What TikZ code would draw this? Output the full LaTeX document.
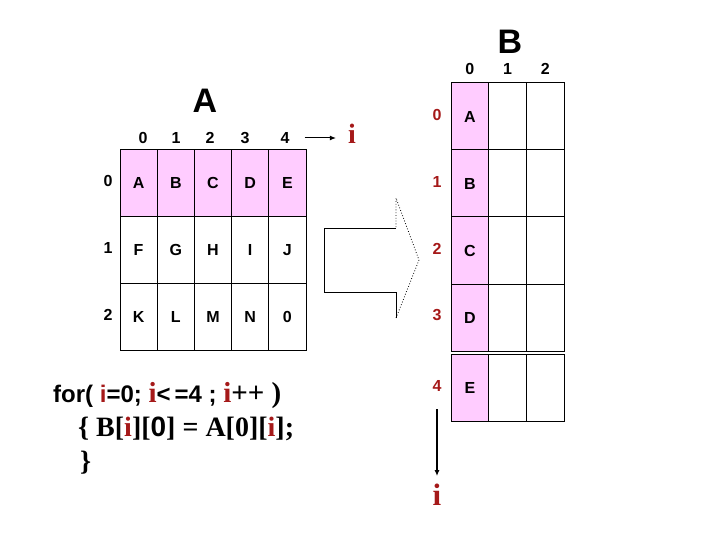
\documentclass[tikz,border=0pt]{standalone}
\usepackage{fontspec}
\setmainfont{Liberation Serif}
\setsansfont{Liberation Sans}
\usetikzlibrary{arrows.meta,positioning}
\definecolor{cellpink}{RGB}{255,204,255}
\definecolor{idxred}{RGB}{165,25,25}

\begin{document}
\begin{tikzpicture}[x=1pt, y=-1pt,
    every node/.style={font=\sffamily\bfseries\fontsize{16}{18}\selectfont, inner sep=0pt},
    cell/.style={draw, line width=1pt, minimum width=37.2pt, minimum height=66.7pt},
    bcell/.style={draw, line width=1pt, minimum width=37.7pt, minimum height=67pt},
    rowred/.style={text=idxred},
    bigi/.style={font=\rmfamily\bfseries\fontsize{31}{33}\selectfont, text=idxred},
    title/.style={font=\sffamily\bfseries\fontsize{34}{36}\selectfont},
    code/.style={anchor=west, font=\rmfamily\bfseries\fontsize{28}{30}\selectfont},
]
\useasboundingbox (0,0) rectangle (720,540);

% matrix A
\node[title] (titleA) at (205,101) {A};
\foreach \txt [count=\k from 0] in {A,B,C,D,E,F,G,H,I,J,K,L,M,N,0} {
  \pgfmathtruncatemacro\r{\k/5}
  \pgfmathtruncatemacro\c{mod(\k,5)}
  \ifnum\r=0 \def\fc{cellpink}\else\def\fc{white}\fi
  \node[cell, fill=\fc] (a\r\c) at ({120+37.2*(\c+0.5)}, {150+66.7*(\r+0.5)}) {\txt};
}
\foreach \c/\x in {0/143,1/176,2/210,3/245,4/285}
  \node (ca\c) at (\x, 138) {\c};
\foreach \r in {0,1,2}
  \node (ra\r) at (108, {148+66.7*(\r+0.5)}) {\r};

\node[bigi, font=\rmfamily\bfseries\fontsize{28}{30}\selectfont] (iA) at (352,134) {i};
\draw[-{Latex[length=6pt,width=5pt]}, line width=1pt, shorten >=12pt]
  ([xshift=15pt]ca4.east) -- (iA.west |- ca4.east);

% block arrow
\draw[line width=1pt] (396,229) -- (324,229) -- (324,292) -- (396,292) -- (396,318);
\draw[dotted, line width=0.8pt] (396,318) -- (419,260) -- (396,198) -- (396,229);

% matrix B
\node[title] (titleB) at (510,42) {B};
\foreach \lt [count=\r from 0] in {A,B,C,D,E} {
  \ifnum\r=4 \def\gap{3}\else\def\gap{0}\fi
  \node[bcell, fill=cellpink] (b\r0) at ({451+37.7*0.5}, {83+67*(\r+0.5)+\gap}) {\lt};
  \foreach \c in {1,2}
    \node[bcell] (b\r\c) at ({451+37.7*(\c+0.5)}, {83+67*(\r+0.5)+\gap}) {};
  \node[rowred] (rb\r) at (437, {81+67*(\r+0.5)+\gap}) {\r};
}
\foreach \c in {0,1,2}
  \node (cb\c) at ({451+37.7*(\c+0.5)}, 69) {\c};

\node[bigi] (iB) at (437,495) {i};
\draw[-{Latex[length=6pt,width=5pt]}, line width=1.2pt, shorten >=8pt]
  ([yshift=-18pt]rb4.south) -- (iB.north);

% code
\node[code, font=\sffamily\bfseries\fontsize{24}{26}\selectfont] (line1) at (53,396)
  {for( \textcolor{idxred}{i}=0; {\rmfamily\fontsize{29}{30}\selectfont\textcolor{idxred}{i}}<\,=4 ;
   {\rmfamily\fontsize{29}{30}\selectfont\textcolor{idxred}{i}++ )}};
\node[code] (line2) at (78,429) {\{ B[\textcolor{idxred}{i}][{\sffamily 0}] = A[0][\textcolor{idxred}{i}];};
\node[code] (line3) at (80,463) {\}};
\end{tikzpicture}
\end{document}
